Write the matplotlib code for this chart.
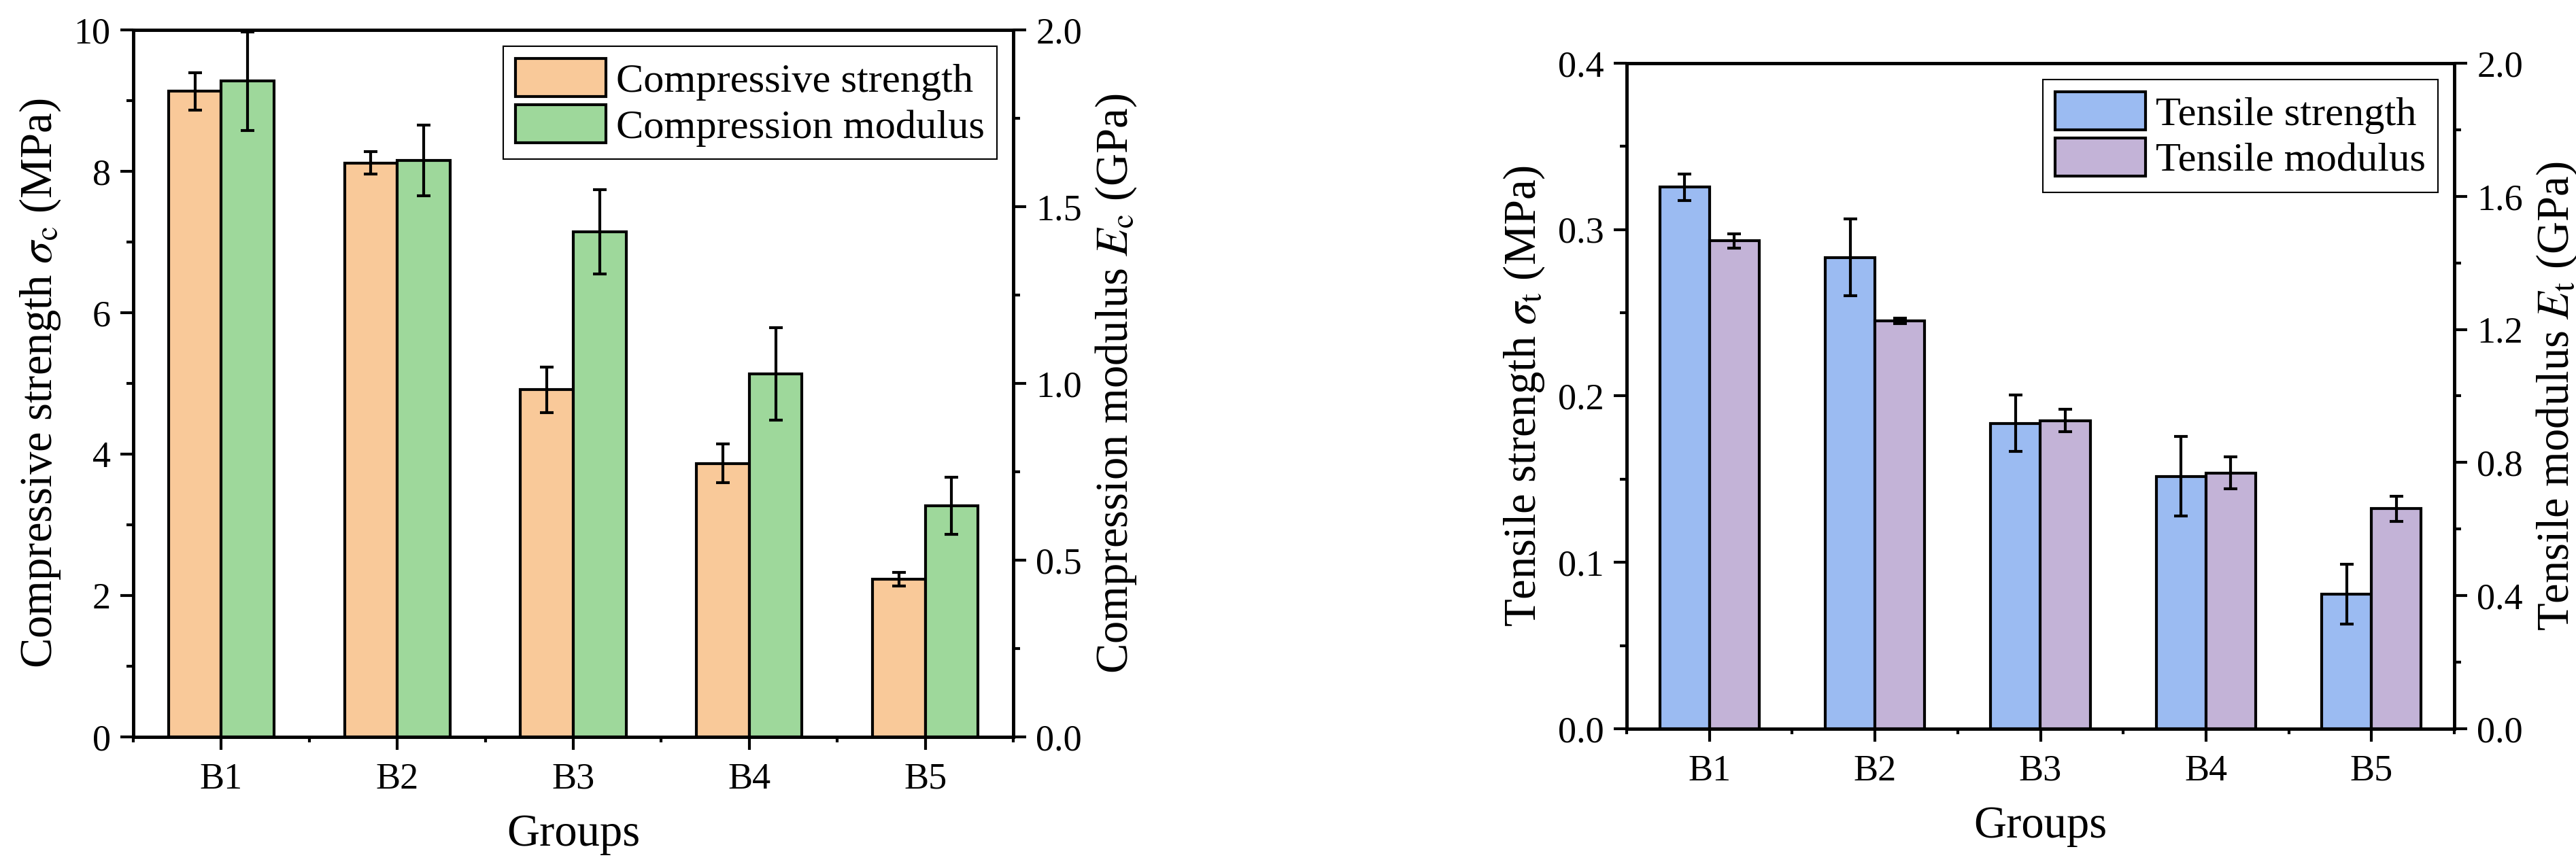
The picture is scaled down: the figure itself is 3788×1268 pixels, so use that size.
import numpy as np
import matplotlib
matplotlib.use('Agg')
import matplotlib.pyplot as plt
from matplotlib.patches import Patch
from matplotlib.ticker import MultipleLocator

plt.rcParams['font.family'] = ['Liberation Serif', 'DejaVu Serif']
plt.rcParams['mathtext.fontset'] = 'stix'

groups = ['B1', 'B2', 'B3', 'B4', 'B5']

# compression test (left panel)
comp_strength = [9.13, 8.12, 4.91, 3.87, 2.23]          # MPa
comp_strength_err = [0.26, 0.16, 0.32, 0.27, 0.10]
comp_modulus = [1.855, 1.63, 1.429, 1.027, 0.654]       # GPa
comp_modulus_err = [0.14, 0.10, 0.12, 0.13, 0.08]

# tension test (right panel)
tens_strength = [0.3256, 0.2833, 0.1835, 0.1517, 0.081]  # MPa
tens_strength_err = [0.008, 0.023, 0.017, 0.024, 0.018]
tens_modulus = [1.466, 1.226, 0.926, 0.769, 0.661]       # GPa
tens_modulus_err = [0.021, 0.008, 0.034, 0.048, 0.037]

c_orange = '#F9C999'
c_green = '#9ED89B'
c_blue = '#9BBBF2'
c_purple = '#C3B3D7'

TICK_FS = 13
LABEL_FS = 16
LEG_FS = 14.5
W = 0.3

fig = plt.figure(figsize=(3788 / 300, 1268 / 300), dpi=300)


def style_axis(ax):
    for s in ax.spines.values():
        s.set_linewidth(1.1)
    ax.tick_params(which='major', direction='out', length=4.5, width=1.0,
                   labelsize=TICK_FS, pad=3.5)
    ax.tick_params(which='minor', direction='out', length=2.5, width=1.0)
    ax.tick_params(axis='x', which='minor', length=2.0)


def panel(rect, left_vals, left_err, right_vals, right_err, colors,
          left_lim, left_major, left_minor, right_major, right_minor,
          left_label, right_label, names):
    x = np.arange(1, len(groups) + 1)
    ax = fig.add_axes(rect)
    ax2 = ax.twinx()
    ebk = dict(ecolor='black', elinewidth=1.0, capsize=2.5, capthick=1.0)
    ax.bar(x - W / 2, left_vals, W, color=colors[0], edgecolor='black',
           linewidth=1.0, yerr=left_err, error_kw=ebk, zorder=2)
    ax2.bar(x + W / 2, right_vals, W, color=colors[1], edgecolor='black',
            linewidth=1.0, yerr=right_err, error_kw=ebk, zorder=2)
    ax.set_xlim(0.5, 5.5)
    ax.set_ylim(0, left_lim)
    ax2.set_ylim(0, 2.0)
    ax.set_xticks(x)
    ax.set_xticklabels(groups)
    ax.xaxis.set_minor_locator(MultipleLocator(1.0, offset=0.5))
    ax.yaxis.set_major_locator(MultipleLocator(left_major))
    ax.yaxis.set_minor_locator(MultipleLocator(left_minor))
    ax2.yaxis.set_major_locator(MultipleLocator(right_major))
    ax2.yaxis.set_minor_locator(MultipleLocator(right_minor))
    style_axis(ax)
    style_axis(ax2)
    ax.tick_params(axis='x', which='major', pad=4.5)
    ax.set_xlabel('Groups', fontsize=LABEL_FS, labelpad=6)
    ax.set_ylabel(left_label, fontsize=LABEL_FS, labelpad=4)
    ax2.set_ylabel(right_label, fontsize=LABEL_FS, labelpad=4)
    handles = [Patch(facecolor=colors[0], edgecolor='black', linewidth=1.0, label=names[0]),
               Patch(facecolor=colors[1], edgecolor='black', linewidth=1.0, label=names[1])]
    leg = ax2.legend(handles=handles, loc='upper right', fontsize=LEG_FS,
                     frameon=True, fancybox=False, framealpha=1,
                     edgecolor='black', handlelength=2.2, handleheight=1.05,
                     handletextpad=0.25, labelspacing=0.1, borderpad=0.3,
                     borderaxespad=0.4)
    leg.get_frame().set_linewidth(0.5)
    return ax, ax2


panel([196 / 3788, 1 - 1084 / 1268, 1294 / 3788, 1040 / 1268],
      comp_strength, comp_strength_err, comp_modulus, comp_modulus_err,
      (c_orange, c_green), 10, 2, 1, 0.5, 0.25,
      r'Compressive strength $\sigma_{\rm c}$ (MPa)',
      r'Compression modulus $E_{\rm c}$ (GPa)',
      ('Compressive strength', 'Compression modulus'))

panel([2392 / 3788, 1 - 1072 / 1268, 1217 / 3788, 979 / 1268],
      tens_strength, tens_strength_err, tens_modulus, tens_modulus_err,
      (c_blue, c_purple), 0.4, 0.1, 0.05, 0.4, 0.2,
      r'Tensile strength $\sigma_{\rm t}$ (MPa)',
      r'Tensile modulus $E_{\rm t}$ (GPa)',
      ('Tensile strength', 'Tensile modulus'))

fig.savefig('out.png', dpi=300)
